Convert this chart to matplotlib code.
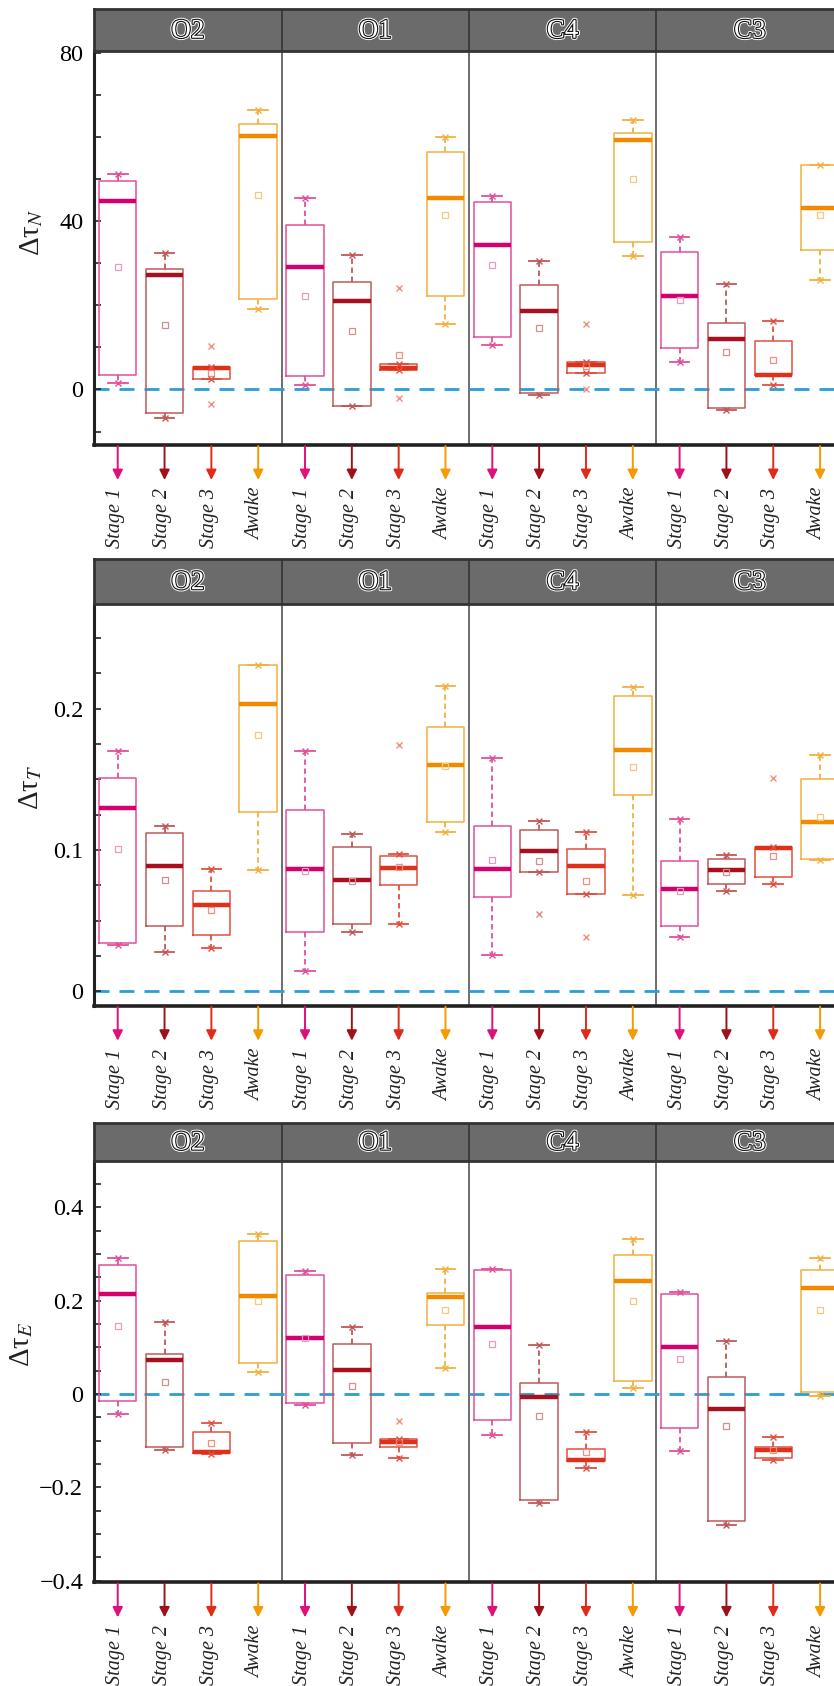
import numpy as np
import matplotlib
matplotlib.use("Agg")
import matplotlib.pyplot as plt
import matplotlib.patheffects as pe

plt.rcParams['font.family'] = ['Liberation Serif', 'DejaVu Serif']
plt.rcParams['mathtext.fontset'] = 'stix'

# ---- data ----
groups = ["O2", "O1", "C4", "C3"]
stages = ["Stage 1", "Stage 2", "Stage 3", "Awake"]

# order in every list: O2 (S1,S2,S3,Aw), O1 (...), C4 (...), C3 (...)
tauN_lo = [1.5, -6.9, 2.5, 19.1, 1.0, -3.9, 4.6, 15.5, 10.5, -1.3, 3.9, 31.7, 6.4, -4.8, 1.0, 25.9]
tauN_q1 = [3.5, -5.6, 2.5, 21.4, 3.1, -3.9, 4.6, 22.1, 12.5, -0.9, 3.9, 35.0, 9.9, -4.3, 3.4, 33.1]
tauN_med = [44.8, 27.1, 5.2, 60.3, 29.0, 20.9, 5.0, 45.5, 34.4, 18.7, 5.7, 59.2, 22.1, 11.9, 3.5, 43.0]
tauN_q3 = [49.6, 28.7, 5.3, 63.1, 39.0, 25.5, 6.1, 56.5, 44.6, 24.9, 6.4, 61.0, 32.7, 15.9, 11.6, 53.2]
tauN_hi = [51.1, 32.4, 5.3, 66.5, 45.5, 32.0, 6.1, 60.0, 46.0, 30.4, 6.6, 64.1, 36.2, 25.0, 16.3, 53.4]
tauN_mean = [29.0, 15.3, 4.0, 46.1, 22.1, 13.8, 8.1, 41.4, 29.6, 14.7, 5.5, 50.1, 21.3, 8.9, 7.1, 41.4]
tauN_fliers = [[], [], [10.3, -3.5], [], [], [], [24.2, -2.0], [], [], [], [15.5, 0.0], [], [], [], [], []]

tauT_lo = [0.033, 0.028, 0.0306, 0.086, 0.0144, 0.042, 0.048, 0.113, 0.0258, 0.0843, 0.0687, 0.068, 0.0384, 0.0712, 0.0763, 0.093]
tauT_q1 = [0.034, 0.0465, 0.040, 0.1268, 0.0417, 0.048, 0.0753, 0.120, 0.0669, 0.0843, 0.0687, 0.139, 0.046, 0.0758, 0.0806, 0.094]
tauT_med = [0.130, 0.0886, 0.061, 0.203, 0.0866, 0.079, 0.0874, 0.160, 0.0866, 0.099, 0.0889, 0.1707, 0.0727, 0.0856, 0.1013, 0.120]
tauT_q3 = [0.151, 0.112, 0.0707, 0.231, 0.128, 0.102, 0.0957, 0.187, 0.117, 0.114, 0.101, 0.209, 0.0919, 0.0937, 0.1018, 0.150]
tauT_hi = [0.170, 0.117, 0.0866, 0.231, 0.170, 0.111, 0.0975, 0.216, 0.165, 0.1207, 0.1126, 0.215, 0.1217, 0.0965, 0.1018, 0.167]
tauT_mean = [0.101, 0.079, 0.0576, 0.1816, 0.085, 0.078, 0.088, 0.1596, 0.0927, 0.092, 0.078, 0.159, 0.071, 0.0848, 0.096, 0.1235]
tauT_fliers = [[], [], [], [], [], [], [0.174], [], [], [0.0548], [0.0386], [], [], [], [0.1508], []]

tauE_lo = [-0.044, -0.121, -0.128, 0.046, -0.024, -0.131, -0.137, 0.056, -0.088, -0.234, -0.159, 0.013, -0.123, -0.280, -0.142, -0.005]
tauE_q1 = [-0.016, -0.113, -0.127, 0.066, -0.019, -0.105, -0.113, 0.147, -0.056, -0.227, -0.143, 0.027, -0.072, -0.272, -0.137, 0.005]
tauE_med = [0.214, 0.072, -0.125, 0.210, 0.119, 0.051, -0.104, 0.208, 0.144, -0.006, -0.141, 0.243, 0.101, -0.033, -0.1205, 0.227]
tauE_q3 = [0.277, 0.085, -0.082, 0.328, 0.256, 0.107, -0.096, 0.216, 0.266, 0.024, -0.117, 0.298, 0.214, 0.037, -0.114, 0.266]
tauE_hi = [0.291, 0.155, -0.063, 0.343, 0.264, 0.143, -0.096, 0.268, 0.267, 0.104, -0.082, 0.333, 0.219, 0.113, -0.093, 0.291]
tauE_mean = [0.146, 0.026, -0.106, 0.200, 0.119, 0.018, -0.104, 0.181, 0.107, -0.048, -0.125, 0.200, 0.0755, -0.069, -0.120, 0.179]
tauE_fliers = [[], [], [], [], [], [], [-0.058], [], [], [], [], [], [], [], [], []]

tauN_ticks = [0, 40, 80]
tauT_ticks = [0, 0.1, 0.2]
tauE_ticks = [-0.4, -0.2, 0, 0.2, 0.4]

# ---- styling ----
box_colors = ['#e0509a', '#c05858', '#e05040', '#f2b040']
med_colors = ['#d5006d', '#a80f1f', '#e0301a', '#f28a00']
arrow_colors = ['#e0107a', '#a01018', '#e02a1a', '#f59a00']
light_colors = ['#e89ac0', '#d09090', '#f09080', '#f5c880']

W, H = 834, 1686
fig = plt.figure(figsize=(W / 100, H / 100), dpi=100)

left_px, width_px = 94.3, 749.2


def add_panel(strip_top, ax_top, ax_bot, lo, q1, med, q3, hi, mean, fliers,
              ylim, ticks, minor_step, ylab, ylab_x, ylab_y):
    ax = fig.add_axes([left_px / W, 1 - ax_bot / H, width_px / W, (ax_bot - ax_top) / H])
    sax = fig.add_axes([left_px / W, 1 - ax_top / H, width_px / W, (ax_top - strip_top) / H])

    # strip with group names
    sax.set_facecolor('#6b6b6b')
    sax.set_xlim(0, 16)
    sax.set_ylim(0, 1)
    sax.set_xticks([])
    sax.set_yticks([])
    for sp in sax.spines.values():
        sp.set_color('#333333')
        sp.set_linewidth(2)
    for b in (4, 8, 12):
        sax.axvline(b, color='#333333', lw=1.2)
    for g, name in enumerate(groups):
        t = sax.text(g * 4 + 2, 0.47, name, ha='center', va='center', fontsize=19.5,
                     color='white')
        t.set_path_effects([pe.Stroke(linewidth=3, foreground='white'),
                            pe.Stroke(linewidth=1.6, foreground='#111111'),
                            pe.Normal()])

    ax.set_xlim(0, 16)
    ax.set_ylim(*ylim)
    ax_h_px = ax_bot - ax_top

    for b in (4, 8, 12):
        ax.axvline(b, color='#555555', lw=1.2, zorder=1)
    ax.axhline(0, color='#2a9fd6', lw=2, ls=(0, (5.4, 3.6)), zorder=1)

    for s in range(4):
        idx = [g * 4 + s for g in range(4)]
        stats = []
        for i in idx:
            stats.append(dict(med=med[i], q1=q1[i], q3=q3[i], whislo=lo[i], whishi=hi[i],
                              mean=mean[i], fliers=np.array(fliers[i])))
        pos = [i + 0.5 for i in idx]
        ax.bxp(stats, positions=pos, widths=0.8, capwidths=0.42, showmeans=True,
               boxprops=dict(color=box_colors[s], lw=1.1),
               whiskerprops=dict(color=box_colors[s], lw=1.3, ls=(0, (3, 2))),
               capprops=dict(color=box_colors[s], lw=1.3),
               medianprops=dict(color=med_colors[s], lw=3.2, solid_capstyle='butt'),
               meanprops=dict(marker='s', markersize=4.5, markerfacecolor='none',
                              markeredgecolor=light_colors[s], markeredgewidth=0.9),
               flierprops=dict(marker='x', markersize=5, markeredgecolor=light_colors[s],
                               markeredgewidth=1.0, linestyle='none'),
               manage_ticks=False)
        # x marks at whisker ends
        ax.plot(pos, [lo[i] for i in idx], ls='none', marker='x', ms=5,
                mec=box_colors[s], mew=1.0, zorder=3)
        ax.plot(pos, [hi[i] for i in idx], ls='none', marker='x', ms=5,
                mec=box_colors[s], mew=1.0, zorder=3)

        # arrows and stage labels below the axis
        trans = ax.get_xaxis_transform()
        for p in pos:
            ax.annotate('', xy=(p, -35 / ax_h_px), xytext=(p, -1 / ax_h_px),
                        xycoords=trans, textcoords=trans, annotation_clip=False,
                        arrowprops=dict(arrowstyle='-|>', color=arrow_colors[s], lw=1.4,
                                        mutation_scale=15, shrinkA=0, shrinkB=0))
            ax.text(p - 0.05, -43 / ax_h_px, stages[s], transform=trans, rotation=90,
                    ha='center', va='top', fontsize=14.5, style='italic', color='#222222',
                    clip_on=False)

    # axes styling
    ax.set_xticks([])
    ax.set_yticks(ticks)
    ax.set_yticklabels([f'{v:g}'.replace('-', '\u2212') for v in ticks])
    minor = np.arange(np.ceil(ylim[0] / minor_step) * minor_step, ylim[1], minor_step)
    ax.set_yticks(minor, minor=True)
    ax.tick_params(axis='y', which='both', direction='in', length=5, width=1.2,
                   color='#222222', labelsize=17.5, pad=8)
    ax.spines['top'].set_visible(False)
    ax.spines['right'].set_visible(False)
    ax.spines['left'].set_linewidth(2.2)
    ax.spines['bottom'].set_linewidth(2.6)
    ax.spines['left'].set_color('#222222')
    ax.spines['bottom'].set_color('#222222')
    ax.text(ylab_x, ylab_y, ylab, transform=ax.transAxes, rotation=90, ha='center',
            va='center', fontsize=21, color='#222222')
    return ax


add_panel(9, 51, 445, tauN_lo, tauN_q1, tauN_med, tauN_q3, tauN_hi, tauN_mean, tauN_fliers,
          (-13.2, 80.4), tauN_ticks, 10, r'Δτ$_N$', -0.084, 0.54)
add_panel(558.6, 604, 1005.7, tauT_lo, tauT_q1, tauT_med, tauT_q3, tauT_hi, tauT_mean,
          tauT_fliers, (-0.0101, 0.274), tauT_ticks, 0.025, r'Δτ$_T$', -0.085, 0.544)
add_panel(1123.3, 1160.7, 1582.4, tauE_lo, tauE_q1, tauE_med, tauE_q3, tauE_hi, tauE_mean,
          tauE_fliers, (-0.404, 0.5), tauE_ticks, 0.05, r'Δτ$_E$', -0.097, 0.565)

fig.savefig('out.png', dpi=100)
